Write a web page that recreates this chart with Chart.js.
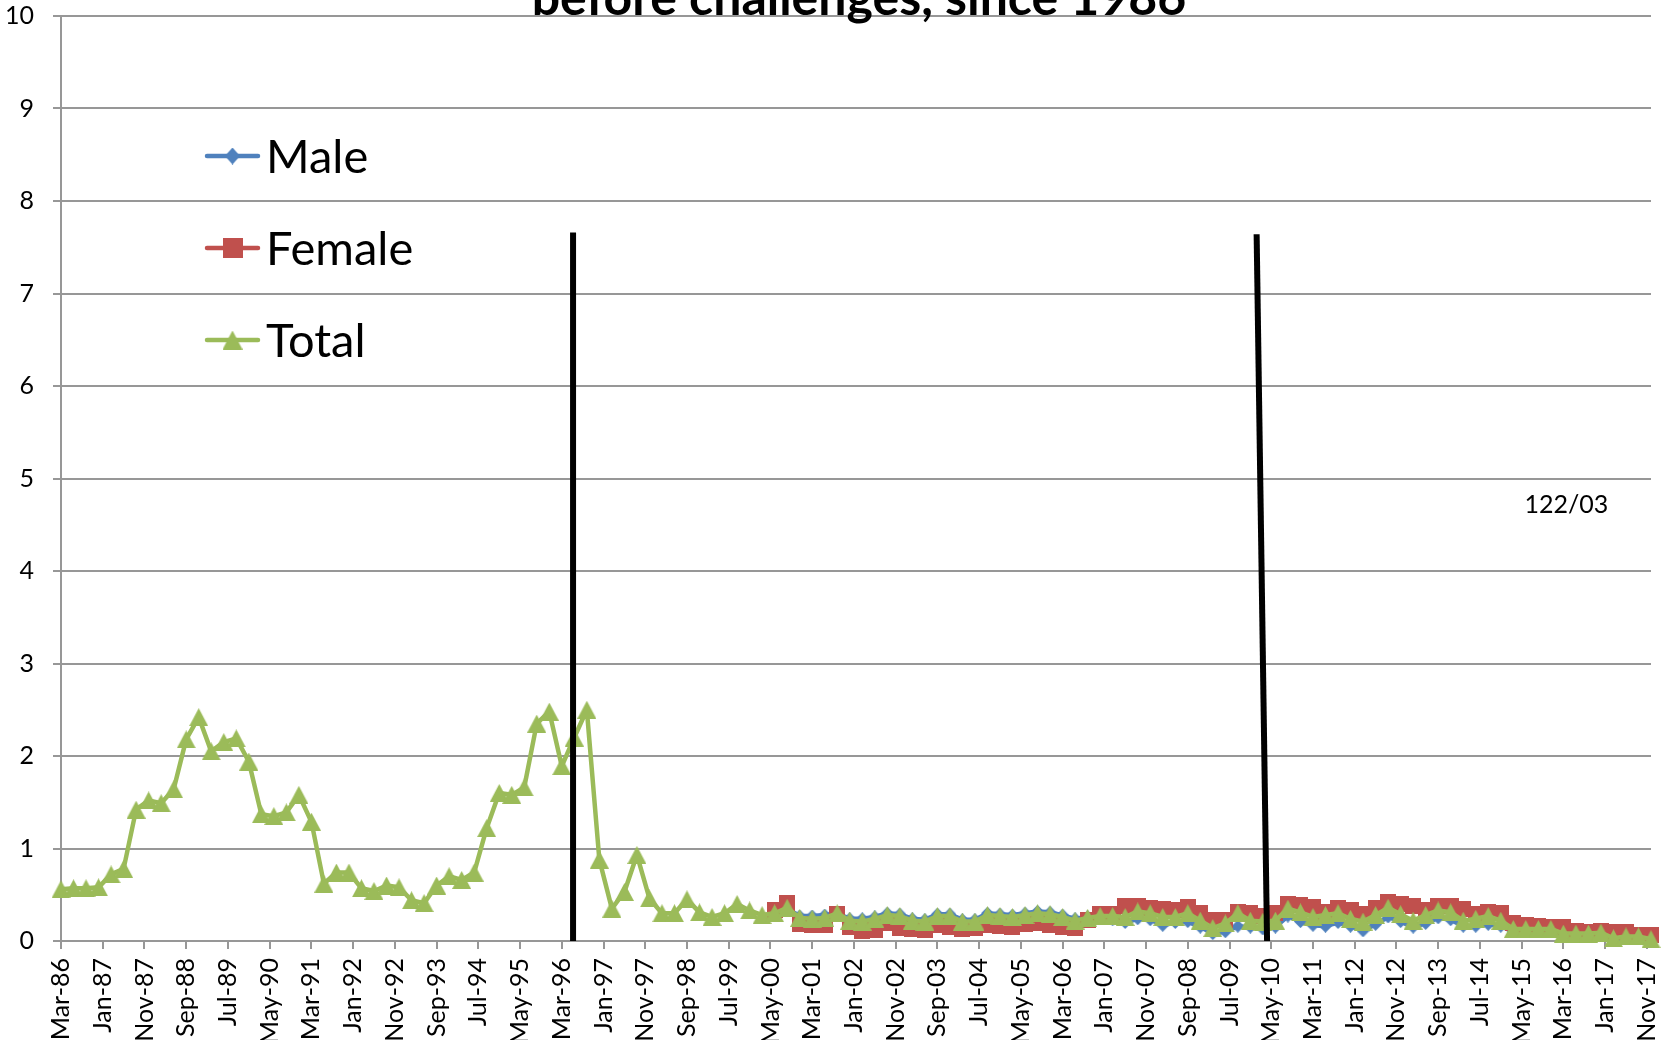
<!DOCTYPE html>
<html>
<head>
<meta charset="utf-8">
<script src="https://cdn.jsdelivr.net/npm/chart.js@4.4.1/dist/chart.umd.min.js"></script>
<style>
html,body{margin:0;padding:0;background:#ffffff;}
#wrap{width:1673px;height:1040px;position:relative;}
</style>
</head>
<body>
<div id="wrap"><canvas id="c"></canvas></div>
<script>
// ---------------- DATA ----------------
const chartTitle = 'before challenges, since 1986';
const seriesNames = ['Male', 'Female', 'Total'];
const seriesColors = ['#4F81BD', '#C0504D', '#9BBB59'];
const firstYear = 1986;
const lastYear = 2017;
const quarterMonths = ['Mar', 'Jun', 'Sep', 'Dec'];
const tickLabels = ['Mar-86','Jan-87','Nov-87','Sep-88','Jul-89','May-90','Mar-91','Jan-92','Nov-92','Sep-93',
  'Jul-94','May-95','Mar-96','Jan-97','Nov-97','Sep-98','Jul-99','May-00','Mar-01','Jan-02','Nov-02','Sep-03',
  'Jul-04','May-05','Mar-06','Jan-07','Nov-07','Sep-08','Jul-09','May-10','Mar-11','Jan-12','Nov-12','Sep-13',
  'Jul-14','May-15','Mar-16','Jan-17','Nov-17'];
const yTicks = [0, 1, 2, 3, 4, 5, 6, 7, 8, 9, 10];

// Total, quarterly Mar-86 .. Dec-17
const totalValues = [
  0.56,0.57,0.57,0.58,0.72,0.78,1.42,1.52,1.49,1.64,
  2.18,2.42,2.05,2.15,2.19,1.94,1.37,1.35,1.39,1.58,
  1.29,0.62,0.74,0.74,0.57,0.54,0.60,0.58,0.44,0.41,
  0.60,0.70,0.66,0.74,1.22,1.60,1.58,1.66,2.35,2.48,
  1.89,2.20,2.50,0.88,0.35,0.53,0.93,0.46,0.30,0.30,
  0.45,0.31,0.26,0.30,0.40,0.33,0.28,0.30,0.36,0.25,
  0.24,0.25,0.30,0.22,0.21,0.24,0.28,0.27,0.22,0.21,
  0.27,0.27,0.21,0.21,0.28,0.27,0.26,0.28,0.30,0.29,
  0.26,0.22,0.25,0.27,0.27,0.26,0.32,0.30,0.26,0.26,
  0.30,0.22,0.14,0.19,0.30,0.22,0.21,0.22,0.35,0.31,
  0.26,0.28,0.30,0.24,0.21,0.28,0.36,0.29,0.22,0.28,
  0.33,0.31,0.22,0.24,0.27,0.22,0.13,0.13,0.13,0.13,
  0.08,0.08,0.08,0.09,0.03,0.05,0.05,0.02
];

// Male / Female, quarterly Jun-00 .. Dec-17
const genderStart = 'Jun-00';
const maleValues = [
  0.29,0.35,0.27,0.27,0.28,0.30,0.24,0.24,0.26,0.30,
  0.29,0.24,0.23,0.29,0.29,0.23,0.23,0.30,0.29,0.28,
  0.30,0.32,0.31,0.28,0.24,0.26,0.24,0.23,0.20,0.24,
  0.23,0.17,0.20,0.21,0.15,0.08,0.10,0.16,0.15,0.13,
  0.15,0.27,0.21,0.17,0.16,0.20,0.16,0.11,0.18,0.26,
  0.21,0.15,0.19,0.25,0.23,0.16,0.16,0.18,0.16,0.10,
  0.10,0.11,0.11,0.06,0.06,0.06,0.07,0.02,0.03,0.03,
  0.01
];
const femaleValues = [
  0.33,0.41,0.18,0.17,0.17,0.29,0.15,0.11,0.12,0.20,
  0.14,0.13,0.12,0.17,0.15,0.13,0.14,0.17,0.16,0.15,
  0.18,0.19,0.17,0.15,0.14,0.23,0.29,0.29,0.38,0.38,
  0.36,0.35,0.34,0.37,0.30,0.23,0.23,0.31,0.30,0.27,
  0.30,0.40,0.39,0.37,0.31,0.36,0.33,0.29,0.36,0.42,
  0.40,0.38,0.33,0.38,0.38,0.35,0.29,0.31,0.30,0.19,
  0.17,0.16,0.15,0.15,0.11,0.10,0.11,0.10,0.10,0.07,
  0.06
];

// annotation lines (x in months since Mar-86, y in chart units) and note
const markerLines = [
  { x1: 122.7, y1: 0, x2: 122.7, y2: 7.66 },
  { x1: 286.5, y1: 7.64, x2: 289.0, y2: 0 }
];
const noteText = '122/03';
const notePos = { x: 360.7, y: 4.71 };

// ---------------- HELPERS ----------------
const MONTHS = ['Jan','Feb','Mar','Apr','May','Jun','Jul','Aug','Sep','Oct','Nov','Dec'];
function monthIndex(label) {
  const [m, yy] = label.split('-');
  const y = Number(yy) >= 50 ? 1900 + Number(yy) : 2000 + Number(yy);
  return (y - firstYear) * 12 + MONTHS.indexOf(m) - 2;
}
const quarterDates = [];
for (let y = firstYear; y <= lastYear; y++) {
  quarterMonths.forEach(m => quarterDates.push(m + '-' + String(y % 100).padStart(2, '0')));
}
const labelByMonth = {};
tickLabels.forEach(l => { labelByMonth[monthIndex(l)] = l; });

function points(values, startLabel) {
  const start = quarterDates.indexOf(startLabel);
  return values.map((v, i) => ({ x: monthIndex(quarterDates[start + i]), y: v }));
}

function makeMarker(kind, w, h, color) {
  const c = document.createElement('canvas');
  c.width = w; c.height = h;
  const g = c.getContext('2d');
  g.fillStyle = color;
  g.beginPath();
  if (kind === 'triangle') { g.moveTo(w / 2, 0); g.lineTo(w, h); g.lineTo(0, h); }
  else if (kind === 'square') { g.rect(0, 0, w, h); }
  else { g.moveTo(w / 2, 0); g.lineTo(w, h / 2); g.lineTo(w / 2, h); g.lineTo(0, h / 2); }
  g.closePath();
  g.fill();
  return c;
}
const chartMarkers = [
  makeMarker('diamond', 13, 13, seriesColors[0]),
  makeMarker('square', 16, 16, seriesColors[1]),
  makeMarker('triangle', 19, 18, seriesColors[2])
];
const legendMarkers = [
  makeMarker('diamond', 15, 17, seriesColors[0]),
  makeMarker('square', 20, 20, seriesColors[1]),
  makeMarker('triangle', 20, 19, seriesColors[2])
];

const FONT = 'Lato, "Open Sans", "Noto Sans", sans-serif';
const GRID = '#979797';

// ---------------- PLUGINS ----------------
const decorations = {
  id: 'decorations',
  afterDatasetsDraw(chart) {
    const ctx = chart.ctx;
    const xs = chart.scales.x, ys = chart.scales.y;
    ctx.save();
    // vertical black markers
    ctx.strokeStyle = '#000000';
    ctx.lineWidth = 6;
    ctx.lineCap = 'butt';
    markerLines.forEach(l => {
      ctx.beginPath();
      ctx.moveTo(xs.getPixelForValue(l.x1), ys.getPixelForValue(l.y1));
      ctx.lineTo(xs.getPixelForValue(l.x2), ys.getPixelForValue(l.y2));
      ctx.stroke();
    });
    // note
    ctx.fillStyle = '#000000';
    ctx.font = '25px ' + FONT;
    ctx.textAlign = 'center';
    ctx.textBaseline = 'middle';
    ctx.fillText(noteText, xs.getPixelForValue(notePos.x), ys.getPixelForValue(notePos.y));
    // legend
    const rowY = [156, 248, 340];
    chart.data.datasets.forEach((ds, i) => {
      const y = rowY[i];
      ctx.strokeStyle = ds.borderColor;
      ctx.lineWidth = 4.5;
      ctx.lineCap = 'round';
      ctx.beginPath();
      ctx.moveTo(207, y);
      ctx.lineTo(258, y);
      ctx.stroke();
      const m = legendMarkers[i];
      ctx.drawImage(m, 232.5 - m.width / 2, y - m.height / 2);
      ctx.fillStyle = '#000000';
      ctx.font = '47px ' + FONT;
      ctx.textAlign = 'left';
      ctx.textBaseline = 'middle';
      ctx.fillText(ds.label, 266, y + 2);
    });
    // title (partly outside the canvas top, as in the reference)
    ctx.font = 'bold 50px ' + FONT;
    ctx.textAlign = 'center';
    ctx.textBaseline = 'alphabetic';
    ctx.fillText(chartTitle, 859, 15);
    ctx.restore();
  }
};

// ---------------- CHART ----------------
const datasets = [
  { label: seriesNames[0], data: points(maleValues, genderStart), borderColor: seriesColors[0], backgroundColor: seriesColors[0],
    pointStyle: chartMarkers[0], order: 2 },
  { label: seriesNames[1], data: points(femaleValues, genderStart), borderColor: seriesColors[1], backgroundColor: seriesColors[1],
    pointStyle: chartMarkers[1], order: 1 },
  { label: seriesNames[2], data: points(totalValues, quarterDates[0]), borderColor: seriesColors[2], backgroundColor: seriesColors[2],
    pointStyle: chartMarkers[2], order: 0 }
].map(d => Object.assign(d, {
  borderWidth: 4.5, pointRadius: 9, pointHoverRadius: 9, tension: 0, fill: false, clip: false,
  borderJoinStyle: 'round', borderCapStyle: 'round'
}));

new Chart(document.getElementById('c'), {
  type: 'line',
  data: { datasets },
  plugins: [decorations],
  options: {
    responsive: true,
    maintainAspectRatio: false,
    animation: false,
    events: [],
    layout: { padding: { top: 16, right: 22, bottom: 0, left: 0 } },
    plugins: { legend: { display: false }, tooltip: { enabled: false }, title: { display: false } },
    scales: {
      x: {
        type: 'linear',
        min: monthIndex(quarterDates[0]),
        max: monthIndex(quarterDates[quarterDates.length - 1]),
        afterBuildTicks: s => { s.ticks = tickLabels.map(l => ({ value: monthIndex(l) })); },
        afterFit: s => { s.height = 99; s.paddingLeft = 0; s.paddingRight = 0; },
        ticks: {
          autoSkip: false, minRotation: 90, maxRotation: 90, padding: 9,
          color: '#000000', font: { family: FONT, size: 25 },
          callback: v => labelByMonth[v] || ''
        },
        grid: { drawOnChartArea: false, drawTicks: true, tickLength: 8, color: GRID, lineWidth: 2 },
        border: { display: true, color: GRID, width: 2 }
      },
      y: {
        min: yTicks[0], max: yTicks[yTicks.length - 1],
        afterBuildTicks: s => { s.ticks = yTicks.map(v => ({ value: v })); },
        afterFit: s => { s.width = 61; s.paddingTop = 0; s.paddingBottom = 0; },
        ticks: { color: '#000000', padding: 19, font: { family: FONT, size: 25 } },
        grid: { color: GRID, lineWidth: 2, tickLength: 8 },
        border: { display: true, color: GRID, width: 2 }
      }
    }
  }
});
</script>
</body>
</html>
